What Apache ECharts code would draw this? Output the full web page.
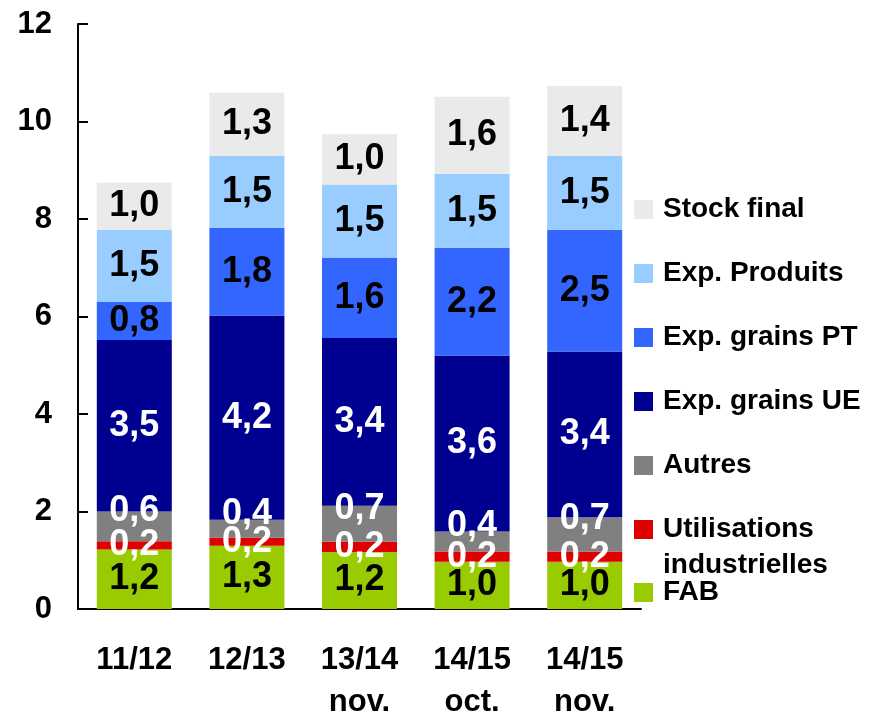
<!DOCTYPE html>
<html>
<head>
<meta charset="utf-8">
<script src="https://cdn.jsdelivr.net/npm/echarts@6/dist/echarts.min.js"></script>
<style>
  html, body { margin: 0; padding: 0; background: #fff; }
  #chart { width: 873px; height: 715px; }
</style>
</head>
<body>
<div id="chart"></div>
<script>
const categories = ["11/12", "12/13", "13/14\nnov.", "14/15\noct.", "14/15\nnov."];
const fab = [1.22, 1.30, 1.17, 0.97, 0.97];
const utilisations = [0.17, 0.16, 0.21, 0.21, 0.21];
const autres = [0.61, 0.37, 0.74, 0.41, 0.70];
const grainsUE = [3.52, 4.19, 3.44, 3.61, 3.40];
const grainsPT = [0.78, 1.80, 1.64, 2.21, 2.50];
const produits = [1.48, 1.48, 1.51, 1.52, 1.51];
const stock = [0.97, 1.29, 1.03, 1.58, 1.44];

const font = "'Liberation Sans', Arial, sans-serif";
const fmt = (p) => p.value.toFixed(1).replace(".", ",");

const makeSeries = (name, data, color, labelColor, offset) => ({
  name,
  type: "bar",
  stack: "total",
  barWidth: 75,
  data,
  itemStyle: { color },
  label: {
    show: true,
    position: "inside",
    formatter: fmt,
    color: labelColor,
    fontFamily: font,
    fontWeight: "bold",
    fontSize: 36,
    offset: offset || [0, 0],
  },
  emphasis: { disabled: true },
});

const chart = echarts.init(document.getElementById("chart"));
const legendText = { fontFamily: font, fontWeight: "bold", fontSize: 28, color: "#000", lineHeight: 36, padding: [0, 0, 0, 5] };
const legendBase = {
  orient: "vertical",
  left: 634,
  padding: 0,
  icon: "rect",
  itemWidth: 19,
  itemHeight: 19,
  itemGap: 28,
  selectedMode: false,
  textStyle: legendText,
};

chart.setOption({
  animation: false,
  grid: { left: 78, right: 232, top: 24, bottom: 106, outerBoundsMode: "none" },
  legend: [
    {
      ...legendBase,
      top: 191.5,
      data: ["Stock final", "Exp. Produits", "Exp. grains PT", "Exp. grains UE", "Autres"],
    },
    {
      ...legendBase,
      top: 475.5,
      data: ["Utilisations industrielles"],
      formatter: () => "\nUtilisations\nindustrielles",
    },
    {
      ...legendBase,
      top: 574.5,
      data: ["FAB"],
    },
  ],
  xAxis: {
    type: "category",
    data: categories,
    axisLine: { lineStyle: { color: "#000", width: 2 } },
    axisTick: { inside: true, length: 11, lineStyle: { color: "#000", width: 2 } },
    axisLabel: {
      margin: 30,
      color: "#000",
      fontFamily: font,
      fontWeight: "bold",
      fontSize: 31,
      lineHeight: 42,
      interval: 0,
    },
  },
  yAxis: {
    type: "value",
    min: 0,
    max: 12,
    interval: 2,
    splitLine: { show: false },
    axisLine: { show: true, lineStyle: { color: "#000", width: 2 } },
    axisTick: { show: true, inside: true, length: 10, lineStyle: { color: "#000", width: 2 } },
    axisLabel: {
      margin: 26,
      color: "#000",
      fontFamily: font,
      fontWeight: "bold",
      fontSize: 31,
    },
  },
  series: [
    makeSeries("FAB", fab, "#99CC00", "#000"),
    makeSeries("Utilisations industrielles", utilisations, "#E00000", "#fff"),
    makeSeries("Autres", autres, "#808080", "#fff", [0, -15]),
    makeSeries("Exp. grains UE", grainsUE, "#000090", "#fff"),
    makeSeries("Exp. grains PT", grainsPT, "#3366FF", "#000"),
    makeSeries("Exp. Produits", produits, "#99CCFF", "#000"),
    makeSeries("Stock final", stock, "#EAEAEA", "#000"),
  ],
});
</script>
</body>
</html>
